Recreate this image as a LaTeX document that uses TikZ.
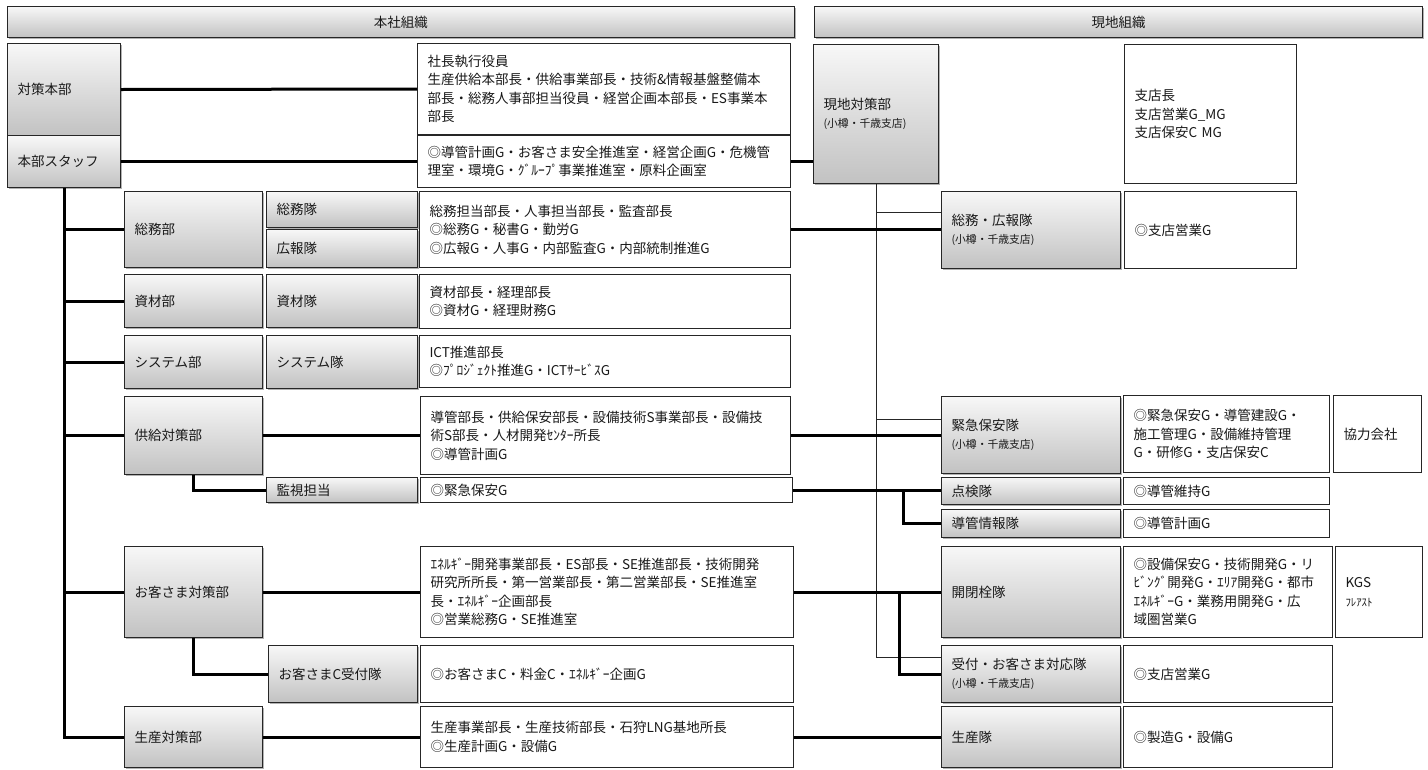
\documentclass[tikz,border=0pt]{standalone}
\usepackage{fontspec}
\setmainfont{Noto Sans CJK JP}
\usetikzlibrary{shadows,calc}
\newcommand\bx[7]{%
  \pgfmathsetmacro\bxw{#5-#3}\pgfmathsetmacro\bxh{#6-#4}\pgfmathsetmacro\bxt{#5-#3-20}%
  \node[#1, anchor=north west, minimum width=\bxw pt, minimum height=\bxh pt, text width=\bxt pt] (#2) at (#3,#4) {#7};}
\newcommand\sub[1]{{\fontsize{10.8}{14}\selectfont #1}}
\begin{document}
\begin{tikzpicture}[x=1pt,y=-1pt,
  base/.style={draw=black!85, line width=1pt, inner xsep=10pt, inner ysep=2pt, align=left, text=black!90,
     font=\fontsize{13.5}{18.5}\selectfont},
  gbox/.style={base, top color=gray!6, bottom color=gray!48,
     drop shadow={shadow xshift=1.5pt, shadow yshift=-1.5pt, opacity=.3, fill=black}},
  hdrbox/.style={gbox, align=center},
  wbox/.style={base, fill=white},
  thickc/.style={line width=3pt, draw=black},
  thinc/.style={line width=0.9pt, draw=black!85}]
\useasboundingbox (0,0) rectangle (1428,769);
% headers
\bx{hdrbox}{hdrL}{7}{6}{794}{37}{本社組織}
\bx{hdrbox}{hdrR}{814}{6}{1422}{37}{現地組織}
% left gray boxes
\bx{gbox}{hq}{7}{43}{120}{135}{対策本部}
\bx{gbox}{staff}{7}{135}{120}{187}{本部スタッフ}
\bx{gbox}{soumu}{124}{191}{262}{267}{総務部}
\bx{gbox}{soumutai}{266}{191}{417}{227}{総務隊}
\bx{gbox}{kouhoutai}{266}{229}{417}{267}{広報隊}
\bx{gbox}{shizai}{124}{274}{262}{327}{資材部}
\bx{gbox}{shizaitai}{266}{274}{417}{327}{資材隊}
\bx{gbox}{system}{124}{335}{262}{388}{システム部}
\bx{gbox}{systemtai}{266}{335}{417}{388}{システム隊}
\bx{gbox}{kyokyu}{124}{396}{262}{474}{供給対策部}
\bx{gbox}{kanshi}{266}{477}{417}{502}{監視担当}
\bx{gbox}{okyaku}{124}{546}{262}{637}{お客さま対策部}
\bx{gbox}{okc}{268}{645}{417}{702}{お客さまC受付隊}
\bx{gbox}{seisan}{124}{706}{262}{767}{生産対策部}
% left text boxes
\bx{wbox}{tb1}{417}{43}{790}{134}{社長執行役員\\生産供給本部長・供給事業部長・技術\&情報基盤整備本\\部長・総務人事部担当役員・経営企画本部長・ES事業本\\部長}
\bx{wbox}{tb2}{417}{135}{790}{187}{◎導管計画G・お客さま安全推進室・経営企画G・危機管\\理室・環境G・ｸﾞﾙｰﾌﾟ事業推進室・原料企画室}
\bx{wbox}{tbsoumu}{419}{191}{790}{267}{総務担当部長・人事担当部長・監査部長\\◎総務G・秘書G・勤労G\\◎広報G・人事G・内部監査G・内部統制推進G}
\bx{wbox}{tbshizai}{419}{274}{790}{328}{資材部長・経理部長\\◎資材G・経理財務G}
\bx{wbox}{tbsystem}{419}{335}{790}{387}{ICT推進部長\\◎ﾌﾟﾛｼﾞｪｸﾄ推進G・ICTｻｰﾋﾞｽG}
\bx{wbox}{tbkyokyu}{420}{396}{790}{474}{導管部長・供給保安部長・設備技術S事業部長・設備技\\術S部長・人材開発ｾﾝﾀｰ所長\\◎導管計画G}
\bx{wbox}{tbkanshi}{420}{477}{792}{502}{◎緊急保安G}
\bx{wbox}{tbokyaku}{420}{546}{793}{637}{ｴﾈﾙｷﾞｰ開発事業部長・ES部長・SE推進部長・技術開発\\研究所所長・第一営業部長・第二営業部長・SE推進室\\長・ｴﾈﾙｷﾞｰ企画部長\\◎営業総務G・SE推進室}
\bx{wbox}{tbokc}{420}{645}{793}{702}{◎お客さまC・料金C・ｴﾈﾙｷﾞｰ企画G}
\bx{wbox}{tbseisan}{420}{706}{793}{767}{生産事業部長・生産技術部長・石狩LNG基地所長\\◎生産計画G・設備G}
% right gray boxes
\bx{gbox}{genchi}{813}{44}{938}{183}{現地対策部\\\sub{(小樽・千歳支店)}}
\bx{gbox}{gsoumu}{941}{191}{1120}{268}{総務・広報隊\\\sub{(小樽・千歳支店)}}
\bx{gbox}{kinkyu}{941}{396}{1120}{473}{緊急保安隊\\\sub{(小樽・千歳支店)}}
\bx{gbox}{tenken}{941}{477}{1120}{504}{点検隊}
\bx{gbox}{dokan}{941}{509}{1120}{537}{導管情報隊}
\bx{gbox}{kaihei}{941}{546}{1120}{637}{開閉栓隊}
\bx{gbox}{uketsuke}{941}{645}{1120}{702}{受付・お客さま対応隊\\\sub{(小樽・千歳支店)}}
\bx{gbox}{seisantai}{941}{706}{1120}{767}{生産隊}
% right text boxes
\bx{wbox}{tbshitencho}{1124}{44}{1296}{183}{支店長\\支店営業G\_MG\\支店保安C MG}
\bx{wbox}{tbgsoumu}{1124}{191}{1296}{268}{◎支店営業G}
\bx{wbox}{tbkinkyu}{1123}{395}{1329}{472}{◎緊急保安G・導管建設G・\\施工管理G・設備維持管理\\G・研修G・支店保安C}
\bx{wbox}{kyoryoku}{1333}{395}{1421}{472}{協力会社}
\bx{wbox}{tbtenken}{1123}{477}{1329}{504}{◎導管維持G}
\bx{wbox}{tbdokan}{1123}{509}{1329}{537}{◎導管計画G}
\bx{wbox}{tbkaihei}{1123}{546}{1332}{637}{◎設備保安G・技術開発G・リ\\ﾋﾞﾝｸﾞ開発G・ｴﾘｱ開発G・都市\\ｴﾈﾙｷﾞｰG・業務用開発G・広\\域圏営業G}
\bx{wbox}{kgs}{1335}{546}{1422}{637}{KGS\\\sub{ﾌﾚｱｽﾄ}}
\bx{wbox}{tbuketsuke}{1123}{645}{1332}{702}{◎支店営業G}
\bx{wbox}{tbseisantai}{1123}{706}{1332}{767}{◎製造G・設備G}
% thin connectors from 現地対策部
\coordinate (thA) at ($(gsoumu.north west)+(0,21)$);
\coordinate (thB) at ($(kinkyu.north west)+(0,23)$);
\coordinate (thC) at ($(uketsuke.north west)+(0,12)$);
\draw[thinc] (genchi.south) |- (thC);
\draw[thinc] (genchi.south |- thA) -- (thA);
\draw[thinc] (genchi.south |- thB) -- (thB);
% thick connectors
\draw[thickc] (hq.east) -- (tb1.west);
\draw[thickc] (staff.east) -- (tb2.west);
\draw[thickc] (tb2.east) -- (tb2.east -| genchi.west);
\draw[thickc] (staff.south) |- (seisan.west);
\draw[thickc] (staff.south |- soumu.west) -- (soumu.west);
\draw[thickc] (staff.south |- shizai.west) -- (shizai.west);
\draw[thickc] (staff.south |- system.west) -- (system.west);
\draw[thickc] (staff.south |- kyokyu.west) -- (kyokyu.west);
\draw[thickc] (staff.south |- okyaku.west) -- (okyaku.west);
\draw[thickc] (tbsoumu.east) -- (tbsoumu.east -| gsoumu.west);
\draw[thickc] (kyokyu.east) -- (tbkyokyu.west);
\draw[thickc] (tbkyokyu.east) -- (tbkyokyu.east -| kinkyu.west);
\draw[thickc] (kyokyu.south) |- (kanshi.west);
\draw[thickc] (tbkanshi.east) -- (tbkanshi.east -| tenken.west);
\coordinate (jA) at (903,489.5);
\draw[thickc] (jA) |- (dokan.west);
\draw[thickc] (okyaku.east) -- (tbokyaku.west);
\draw[thickc] (tbokyaku.east) -- (tbokyaku.east -| kaihei.west);
\coordinate (jB) at (899,591.5);
\draw[thickc] (jB) |- (uketsuke.west);
\draw[thickc] (okyaku.south) |- (okc.west);
\draw[thickc] (seisan.east) -- (tbseisan.west);
\draw[thickc] (tbseisan.east) -- (tbseisan.east -| seisantai.west);
\end{tikzpicture}
\end{document}
